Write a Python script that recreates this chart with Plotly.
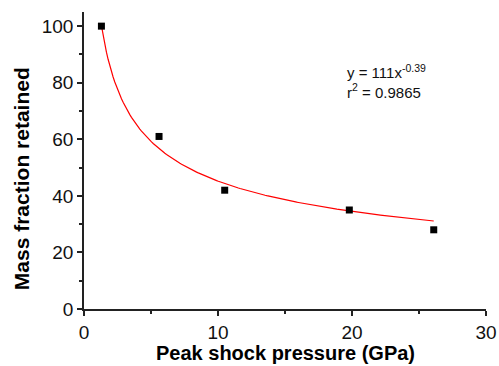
import numpy as np
import plotly.graph_objects as go

# Data
pressure_gpa = [1.3, 5.6, 10.5, 19.8, 26.1]
mass_fraction = [100, 61, 42, 35, 28]

# Power-law fit parameters shown on the chart: y = a * x^b
fit_a = 111
fit_b = -0.39
fit_r2 = "0.9865"
fit_x_min = 1.3
fit_x_max = 26.1

x_ticks = [0, 10, 20, 30]
y_ticks = [0, 20, 40, 60, 80, 100]

x_title = "Peak shock pressure (GPa)"
y_title = "Mass fraction retained"

fit_x = np.linspace(fit_x_min, fit_x_max, 200)
fit_y = fit_a * fit_x ** fit_b

FONT = "Arial, Liberation Sans"

fig = go.Figure()
fig.add_trace(go.Scatter(x=fit_x, y=fit_y, mode="lines",
                         line=dict(color="red", width=1.2), showlegend=False,
                         hoverinfo="skip"))
fig.add_trace(go.Scatter(x=pressure_gpa, y=mass_fraction, mode="markers",
                         marker=dict(symbol="square", size=7, color="black"),
                         showlegend=False))

axis_common = dict(showgrid=False, zeroline=False, showline=True,
                   linecolor="#222", linewidth=1.5, ticks="outside",
                   ticklen=5, tickwidth=1.5, tickcolor="#222", automargin=False,
                   tickfont=dict(family=FONT, size=19, color="#111"))

fig.update_xaxes(range=[0, 30], tickvals=x_ticks,
                 minor=dict(dtick=5, ticks="outside", ticklen=3, tickcolor="#222", tickwidth=1.5),
                 **axis_common)
fig.update_yaxes(range=[0, 105], tickvals=y_ticks,
                 minor=dict(dtick=10, ticks="outside", ticklen=3, tickcolor="#222", tickwidth=1.5),
                 **axis_common)

# plot area in pixels: left 84, right 486, top 12, bottom 308.7
PW, PH = 402, 296.7
fig.add_annotation(x=0.5, y=(308.7 - 353) / PH, xref="paper", yref="paper",
                   xanchor="center", yanchor="middle", showarrow=False, borderpad=0,
                   text=f"<b>{x_title}</b>",
                   font=dict(family=FONT, size=20, color="black"))
fig.add_annotation(x=(21 - 84) / PW, y=(308.7 - 179) / PH, xref="paper", yref="paper",
                   xanchor="center", yanchor="middle", showarrow=False, textangle=-90,
                   text=f"<b>{y_title}</b>",
                   font=dict(family=FONT, size=21, color="black"))

fig.add_annotation(x=(345 - 84) / PW, y=(308.7 - 81) / PH, xref="paper", yref="paper",
                   xanchor="left", yanchor="middle", showarrow=False, align="left",
                   text=f"y = {fit_a}x<sup>{fit_b}</sup><br>r<sup>2</sup> = {fit_r2}",
                   font=dict(family=FONT, size=15, color="#111"))

fig.update_layout(width=499, height=366, margin=dict(l=84, r=13, t=12, b=57, autoexpand=False),
                  plot_bgcolor="white", paper_bgcolor="white")

fig.write_html("out.html", config={"displayModeBar": False},
               post_script="document.body.style.margin='0';document.body.style.overflow='hidden';")
